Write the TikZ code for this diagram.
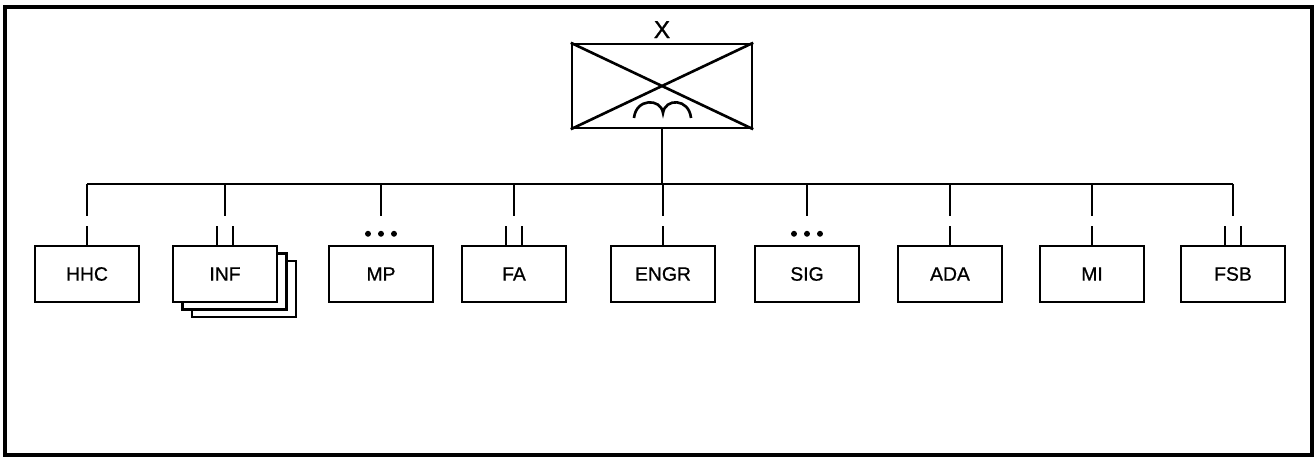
\documentclass[tikz,border=0pt]{standalone}
\usepackage{fontspec}
\setmainfont{Liberation Sans}
\newfontfamily\unitfont{Liberation Sans}[FakeBold=0.8]
\usetikzlibrary{positioning, shadows}

\tikzset{
  unit/.style={draw, fill=white, line width=1.4pt, minimum width=2.08cm,
               minimum height=1.12cm, font=\unitfont\fontsize{11}{13}\selectfont},
  stack/.style={unit, double copy shadow={shadow xshift=5.4pt, shadow yshift=-4.2pt}},
  link/.style={line width=1.5pt},
}

\begin{document}
\begin{tikzpicture}[x=0.02cm, y=-0.02cm]
  \useasboundingbox (0,0) rectangle (1316,459);
  \draw[line width=2pt] (5,7) rectangle (1312,455);

  % headquarters
  \node[draw, line width=1.4pt, minimum width=3.6cm, minimum height=1.68cm] (hq) at (662,86) {};
  \draw[link] (hq.north west) -- (hq.south east) (hq.south west) -- (hq.north east);
  \draw[link] (634,118) .. controls (636,98) and (661,98) .. (663,113)
              .. controls (665,98) and (689,98) .. (691,118);
  \node[above=2.5pt of hq, inner sep=0pt, font=\unitfont\fontsize{14}{16}\selectfont] (hqsize) {X};

  % units
  \foreach \n/\t/\x/\o in {hhc/HHC/87/unit, inf/INF/225/stack, mp/MP/381/unit,
                           fa/FA/514/unit, engr/ENGR/663/unit, sig/SIG/807/unit,
                           ada/ADA/950/unit, mi/MI/1092/unit, fsb/FSB/1233/unit}
    \node[\o] (\n) at (\x,274) {\t};

  % bus
  \coordinate (bus) at (0,184);
  \draw[link] (hq.south) -- (hq.south |- bus);
  \draw[link] (hhc.north |- bus) -- (fsb.north |- bus);
  \foreach \n in {hhc, inf, mp, fa, engr, sig, ada, mi, fsb}
    \draw[link] (\n.north |- bus) -- ++(0,32);

  % echelon marks
  \foreach \n in {hhc, engr, ada, mi}
    \draw[link] (\n.north) -- ++(0,-19);
  \foreach \n in {inf, fa, fsb}
    \draw[link] (\n.north) ++(-8,0) -- ++(0,-19) ++(16,19) -- ++(0,-19);
  \foreach \n in {mp, sig}
    \foreach \d in {-13, 0, 13}
      \fill (\n.north) ++(\d,-11) circle[radius=1.7pt];
\end{tikzpicture}
\end{document}
